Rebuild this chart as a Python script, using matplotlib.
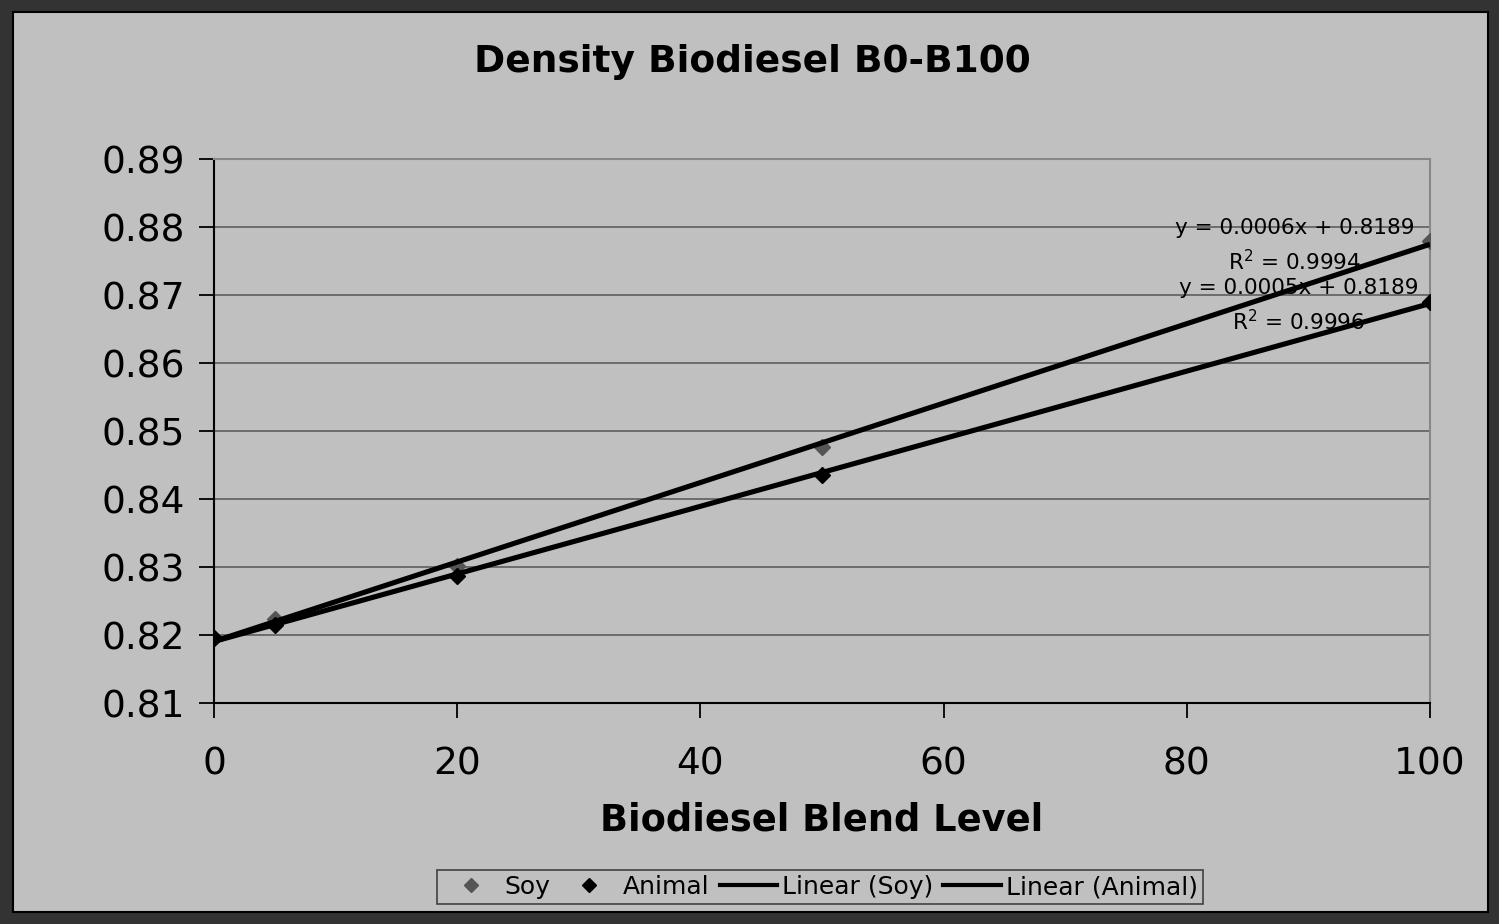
import numpy as np
import matplotlib
matplotlib.use('Agg')
import matplotlib.pyplot as plt
from matplotlib.patches import Rectangle
from matplotlib.lines import Line2D

# 数据
blend = [0, 5, 20, 50, 100]
soy = [0.8195, 0.8224, 0.8301, 0.8476, 0.8779]
animal = [0.8195, 0.8215, 0.8287, 0.8435, 0.8690]
y_ticks = [0.81, 0.82, 0.83, 0.84, 0.85, 0.86, 0.87, 0.88, 0.89]
x_ticks = [0, 20, 40, 60, 80, 100]
soy_eq = ['y = 0.0006x + 0.8189', 'R$^2$ = 0.9994']
animal_eq = ['y = 0.0005x + 0.8189', 'R$^2$ = 0.9996']

plt.rcParams['font.family'] = ['DejaVu Sans']

fig = plt.figure(figsize=(14.99, 9.24), dpi=100)
fig.patch.set_facecolor('#333333')
W, H = 1499, 924
fig.patches.append(Rectangle((13 / W, 12 / H), (1488 - 13) / W, (912 - 12) / H,
                             transform=fig.transFigure, facecolor='#c0c0c0',
                             edgecolor='black', lw=1.5, zorder=-5))

ax = fig.add_axes([214 / W, 1 - 703 / H, (1430 - 214) / W, (703 - 159) / H])
ax.set_facecolor('#c0c0c0')

# 散点
ax.plot(blend, soy, ls='none', marker='D', ms=8.5, color='#555555', zorder=3)
ax.plot(blend, animal, ls='none', marker='D', ms=8.5, color='black', zorder=3)

# 线性趋势线
xs = np.array([0, 100])
for vals in (soy, animal):
    k, b = np.polyfit(blend, vals, 1)
    ax.plot(xs, k * xs + b, color='black', lw=3.7, zorder=4, solid_capstyle='butt')

ax.set_xlim(0, 100)
ax.set_ylim(0.81, 0.89)
ax.set_xticks(x_ticks)
ax.set_yticks(y_ticks)
ax.set_yticklabels([f'{v:.2f}' for v in y_ticks])
ax.tick_params(axis='both', direction='out', length=11, width=1.3, labelsize=27)
ax.tick_params(axis='y', pad=10)
ax.tick_params(axis='x', pad=20)
ax.yaxis.grid(True, color='#666666', lw=1.3)
ax.set_axisbelow(True)
for s in ('left', 'bottom'):
    ax.spines[s].set_color('black')
    ax.spines[s].set_linewidth(1.5)
for s in ('top', 'right'):
    ax.spines[s].set_color('#888888')
    ax.spines[s].set_linewidth(1.5)

ax.set_xlabel('Biodiesel Blend Level', fontsize=26.5, fontweight='bold', labelpad=14)
fig.text(752 / W, 1 - 62 / H, 'Density Biodiesel B0-B100', fontsize=27,
         fontweight='bold', ha='center', va='center')

# 方程标注
ax.text(88.9, 0.87985, soy_eq[0], fontsize=15.5, ha='center', va='center', zorder=2)
ax.text(88.9, 0.87485, soy_eq[1], fontsize=15.5, ha='center', va='center', zorder=2)
ax.text(89.2, 0.87103, animal_eq[0], fontsize=15.5, ha='center', va='center', zorder=2)
ax.text(89.2, 0.86603, animal_eq[1], fontsize=15.5, ha='center', va='center', zorder=2)

handles = [
    Line2D([], [], ls='none', marker='D', ms=7, color='#555555'),
    Line2D([], [], ls='none', marker='D', ms=7, color='black'),
    Line2D([], [], color='black', lw=3),
    Line2D([], [], color='black', lw=3),
]
labels = ['Soy', 'Animal', 'Linear (Soy)', 'Linear (Animal)']
leg = fig.legend(handles, labels, loc='center', bbox_to_anchor=(820 / W, 1 - 887 / H),
                 ncol=4, fontsize=18, frameon=True, fancybox=False,
                 handlelength=2.3, handletextpad=0.2, columnspacing=0.4,
                 borderpad=0.2, borderaxespad=0)
leg.get_frame().set_facecolor('#c0c0c0')
leg.get_frame().set_edgecolor('#222222')
leg.get_frame().set_linewidth(1.2)

fig.savefig('out.png', dpi=100, facecolor=fig.get_facecolor())
